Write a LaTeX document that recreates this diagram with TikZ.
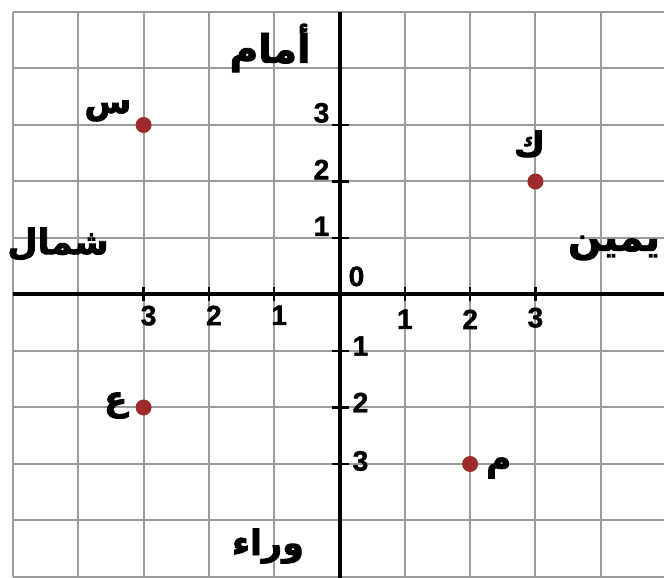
\documentclass[tikz,border=0pt]{standalone}
\usepackage{fontspec}
\setmainfont{Liberation Sans}[BoldFeatures={FakeBold=1.5}]
\newfontfamily\arabicfont[Script=Arabic, BoldFeatures={FakeBold=2.4}]{DejaVu Sans}
\TeXXeTstate=1
\definecolor{gridgray}{HTML}{9C9C9C}
\definecolor{dotred}{HTML}{9E2B2B}
\begin{document}
\begin{tikzpicture}[
  gridline/.style={draw=gridgray, line width=2pt},
  axisline/.style={draw=black, line width=4pt},
  tickmark/.style={draw=black, line width=2.5pt},
  num/.style={font=\bfseries\fontsize{28}{28}\selectfont, inner sep=0pt},
  word/.style={font=\arabicfont\bfseries\fontsize{#1}{#1}\selectfont, inner sep=0pt},
  word/.default=36,
  letter/.style={font=\arabicfont\bfseries\fontsize{34}{34}\selectfont, inner sep=0pt},
  dot/.style={circle, fill=dotred, minimum size=16pt, inner sep=0pt}
]
\useasboundingbox (0,0) rectangle (664pt,578pt);
\clip (0,0) rectangle (664pt,578pt);
\fill[white] (0,0) rectangle (664pt,578pt);
\begin{scope}[shift={(339.5pt,283.5pt)}, x=65.3pt, y=56.5pt]
  % grid
  \foreach \i in {-5,...,5} {
    \draw[gridline] (\i,-5) -- (\i,5);
    \draw[gridline] (-5,\i) -- (5,\i);
  }
  % axes
  \coordinate (xl) at (-5,0);
  \coordinate (xr) at (5.2,0);
  \coordinate (yb) at (0,-5.2);
  \coordinate (yt) at (0,5);
  \coordinate (o) at (0,0);
  \draw[axisline] (xl) -- (xr);
  \draw[axisline] (yb) -- (yt);
  % ticks
  \foreach \i in {-3,-2,-1,1,2,3} {
    \draw[tickmark] ([yshift=-7pt]\i,0) -- ([yshift=7pt]\i,0);
    \draw[tickmark] ([xshift=-8pt]0,\i) -- ([xshift=9pt]0,\i);
  }
  % axis numbers
  \node[num, anchor=north west] (xn3) at ([xshift=-3pt,yshift=-11pt]-3,0) {3};
  \node[num, anchor=north west] (xn2) at ([xshift=-3pt,yshift=-11pt]-2,0) {2};
  \node[num, anchor=north west] (xn1) at ([xshift=-3pt,yshift=-11pt]-1,0) {1};
  \node[num, anchor=north] (xp1) at ([yshift=-15pt]1,0) {1};
  \node[num, anchor=north] (xp2) at ([yshift=-15pt]2,0) {2};
  \node[num, anchor=north] (xp3) at ([yshift=-13pt]3,0) {3};
  \node[num, anchor=south east] (yp3) at ([xshift=-10pt,yshift=2pt]0,3) {3};
  \node[num, anchor=south east] (yp2) at ([xshift=-10pt,yshift=2pt]0,2) {2};
  \node[num, anchor=south east] (yp1) at ([xshift=-10pt,yshift=2pt]0,1) {1};
  \node[num, anchor=west] (yn1) at ([xshift=13pt,yshift=5pt]0,-1) {1};
  \node[num, anchor=west] (yn2) at ([xshift=13pt,yshift=5pt]0,-2) {2};
  \node[num, anchor=west] (yn3) at ([xshift=13pt,yshift=3pt]0,-3) {3};
  \node[num, anchor=south west] (zero) at ([xshift=9pt,yshift=8pt]o) {0};
  % points
  \node[dot] (s) at (-3,3) {};
  \node[dot] (k) at (3,2) {};
  \node[dot] (ain) at (-3,-2) {};
  \node[dot] (m) at (2,-3) {};
  \node[letter, anchor=east] (sl) at ([xshift=-12pt,yshift=14pt]s.center) {\beginR س\endR};
  \node[letter, anchor=south] (kl) at ([xshift=-6pt,yshift=24pt]k.center) {\beginR ك\endR};
  \node[letter, anchor=east] (al) at ([xshift=-16pt,yshift=2pt]ain.center) {\beginR ع\endR};
  \node[letter, anchor=west] (ml) at ([xshift=16pt,yshift=-4pt]m.center) {\beginR م\endR};
\end{scope}
% direction words (pixel coordinates: x, 578 - y)
\node[word=39] (front) at (270pt,530pt) {\beginR أمام\endR};
\node[word=35] (north) at (58pt,334pt) {\beginR شمال\endR};
\node[word=39] (right) at (614pt,330pt) {\beginR يمين\endR};
\node[word=35] (back) at (268pt,32pt) {\beginR وراء\endR};
\end{tikzpicture}
\end{document}
